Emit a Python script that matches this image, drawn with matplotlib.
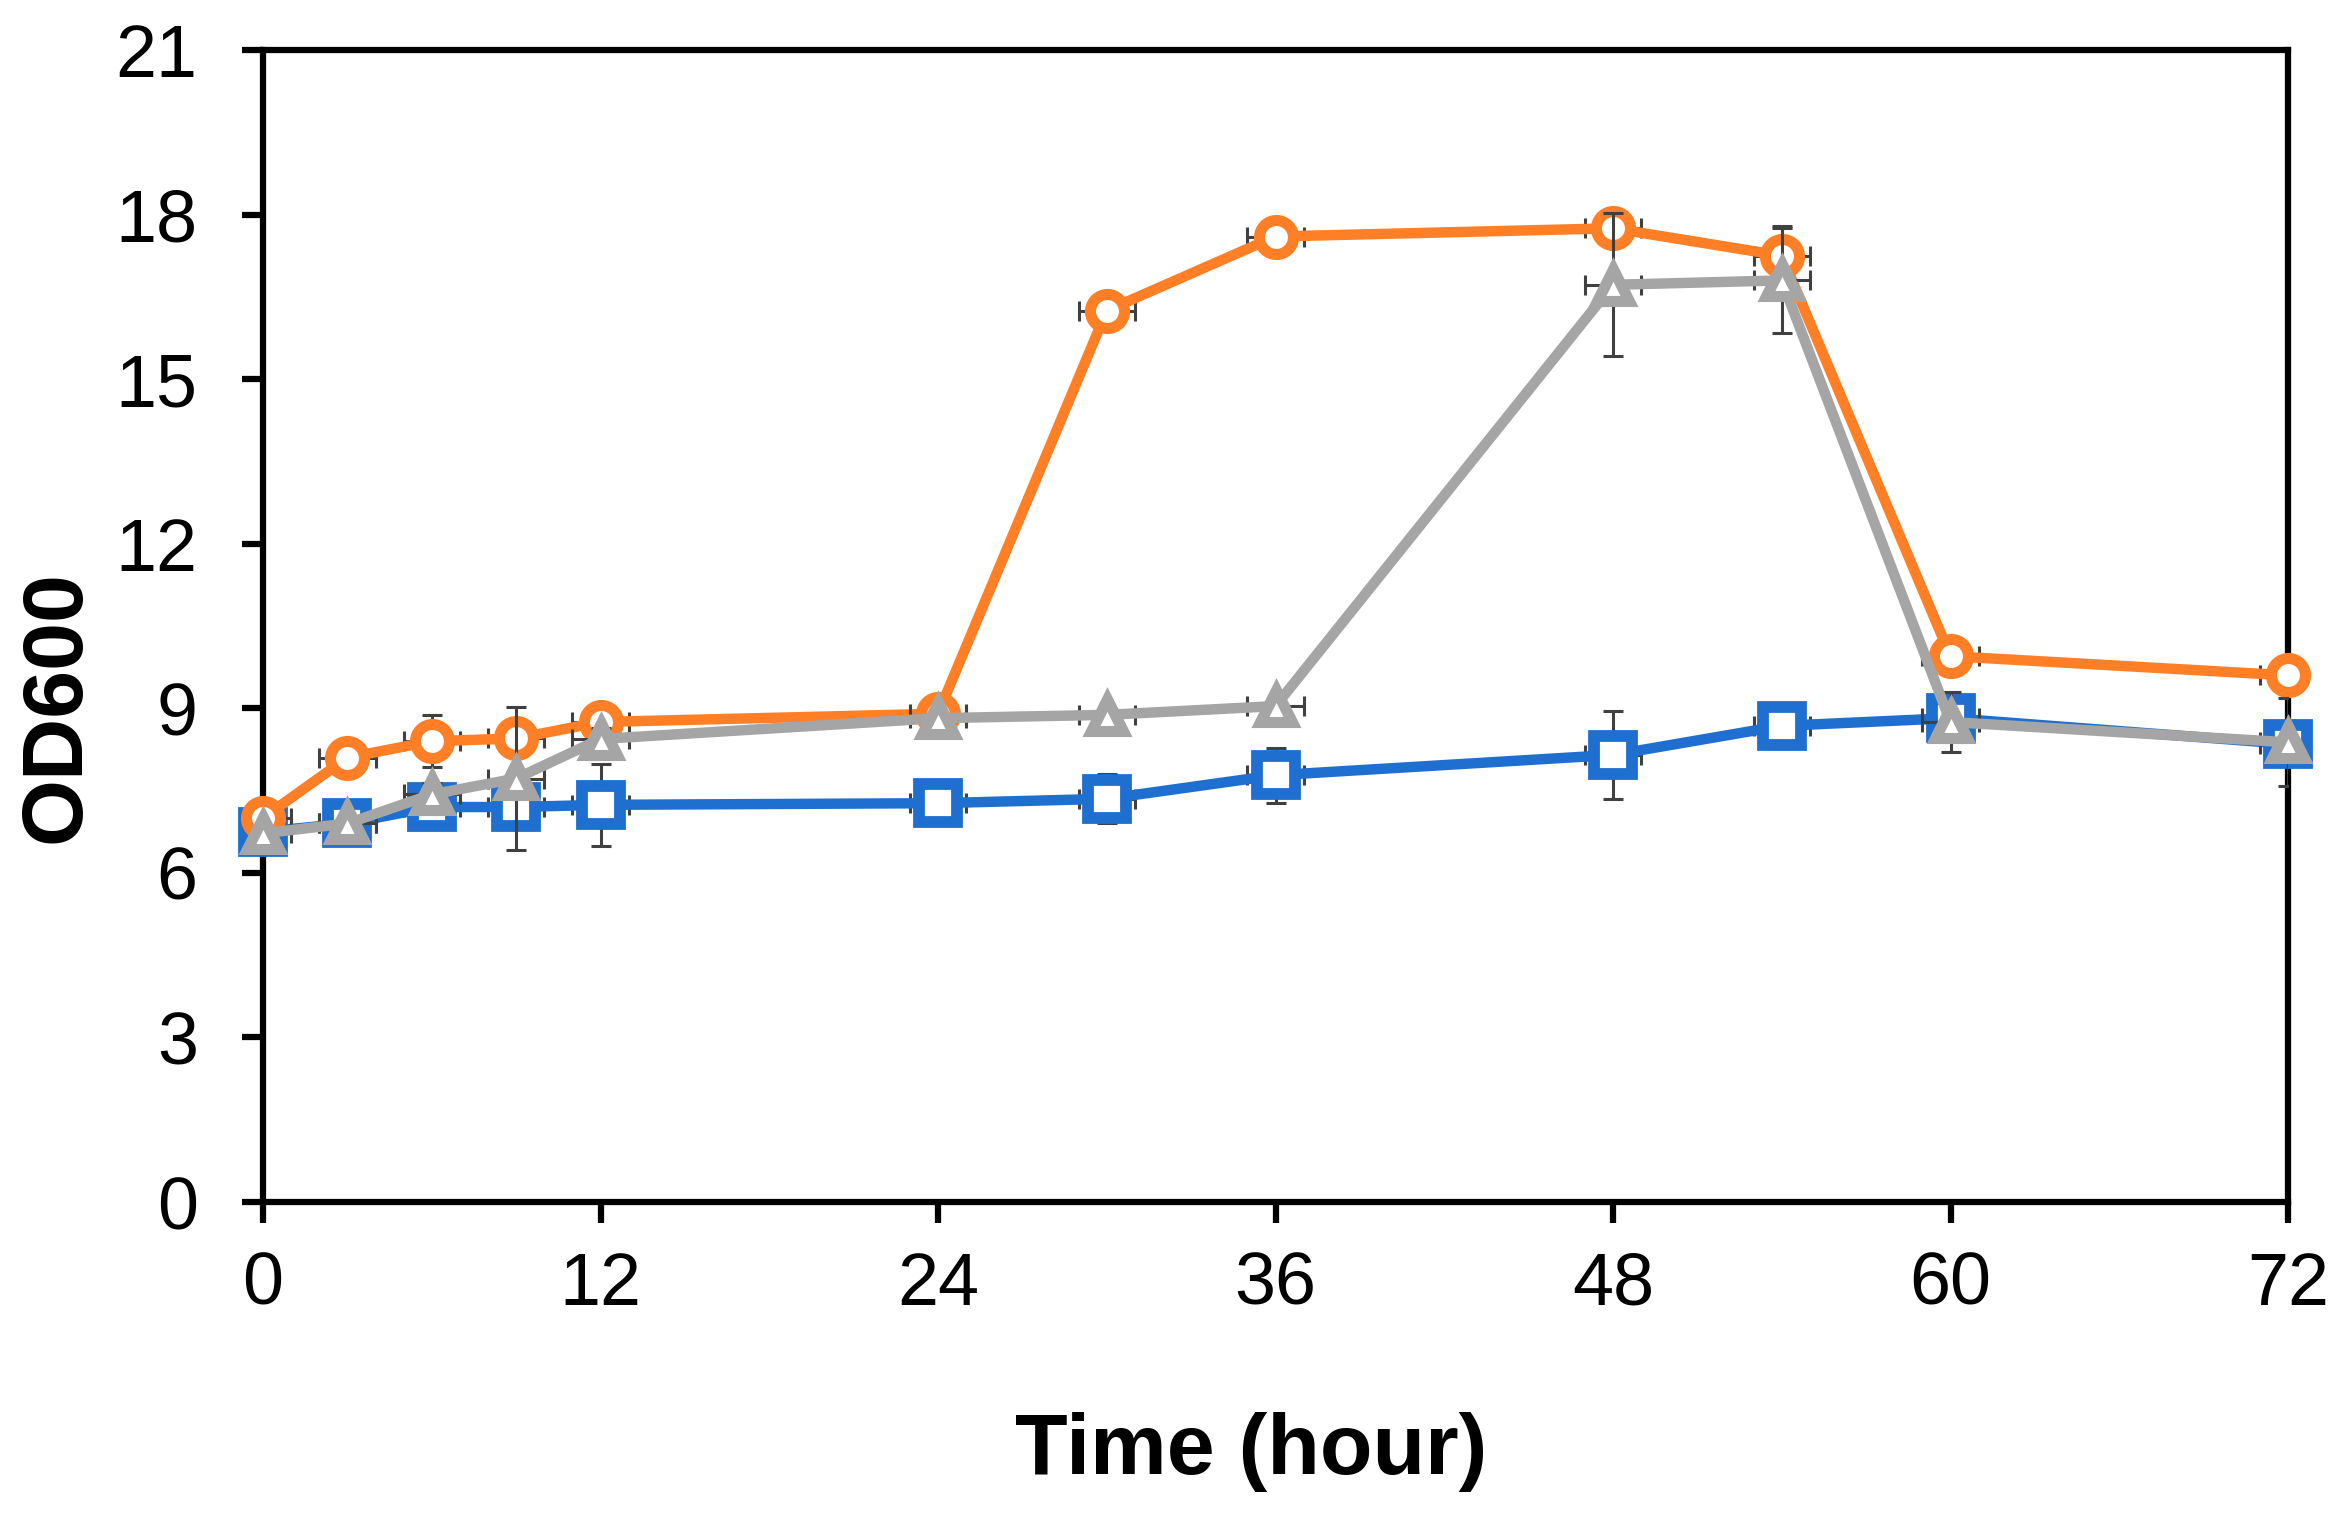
import matplotlib
matplotlib.use("Agg")
import matplotlib.pyplot as plt
import numpy as np

plt.rcParams['font.family'] = ['Liberation Sans', 'DejaVu Sans']

# ---- data ----
time_h = [0, 3, 6, 9, 12, 24, 30, 36, 48, 54, 60, 72]
od_orange = [7.0, 8.1, 8.4, 8.45, 8.75, 8.9, 16.25, 17.6, 17.75, 17.25, 9.95, 9.6]
od_gray = [6.72, 6.9, 7.43, 7.72, 8.44, 8.82, 8.88, 9.04, 16.72, 16.8, 8.75, 8.38]
od_blue = [6.75, 6.9, 7.2, 7.2, 7.24, 7.27, 7.35, 7.78, 8.15, 8.68, 8.82, 8.35]

err_orange = [0.1, 0.1, 0.47, 0.1, 0.1, 0.1, 0.1, 0.1, 0.15, 0.55, 0.1, 0.1]
err_gray = [0.1, 0.1, 0.2, 1.3, 0.2, 0.1, 0.1, 0.1, 1.3, 0.95, 0.55, 0.8]
err_blue = [0.1, 0.1, 0.1, 0.2, 0.75, 0.1, 0.45, 0.5, 0.8, 0.1, 0.1, 0.2]
time_err = [1.0] * len(time_h)

x_ticks = [0, 12, 24, 36, 48, 60, 72]
y_ticks = [0, 3, 6, 9, 12, 15, 18, 21]

# ---- styling ----
W, H, DPI = 2346, 1535, 100
fig = plt.figure(figsize=(W / DPI, H / DPI), dpi=DPI)
ax = fig.add_axes([263 / W, 1 - 1202 / H, (2288 - 263) / W, (1202 - 50) / H])

c_orange = '#FF7F27'
c_gray = '#A5A5A5'
c_blue = '#1E6FD0'
c_err = '#404040'

series = [
    (od_blue, err_blue, c_blue, 's', 27, 8.5),
    (od_orange, err_orange, c_orange, 'o', 24.5, 8),
    (od_gray, err_gray, c_gray, '^', 23.5, 8),
]

for i, (vals, errs, col, mk, ms, mew) in enumerate(series):
    ax.errorbar(time_h, vals, yerr=errs, xerr=time_err, fmt='none',
                ecolor=c_err, elinewidth=2.2, capsize=7, capthick=2.2,
                zorder=2 + i * 2)
    ax.plot(time_h, vals, color=col, lw=7.5, marker=mk, markersize=ms,
            markerfacecolor='white', markeredgecolor=col, markeredgewidth=mew,
            zorder=3 + i * 2, clip_on=False)

ax.set_xlim(0, 72)
ax.set_ylim(0, 21)
ax.set_xticks(x_ticks)
ax.set_yticks(y_ticks)
ax.tick_params(axis='both', which='both', direction='out', length=15, width=4.5,
               labelsize=53, color='black')
ax.tick_params(axis='x', pad=20, top=False)
ax.tick_params(axis='y', pad=32, right=False)
for sp in ax.spines.values():
    sp.set_linewidth(4.5)
    sp.set_color('black')

fig.text(1251 / W, 1 - 1452 / H, 'Time (hour)', ha='center', va='center',
         fontsize=62, fontweight='bold')
fig.text(58 / W, 1 - 707 / H, 'OD600', ha='center', va='center',
         fontsize=62, fontweight='bold', rotation=90)

fig.savefig('out.png', dpi=DPI, facecolor='white')
